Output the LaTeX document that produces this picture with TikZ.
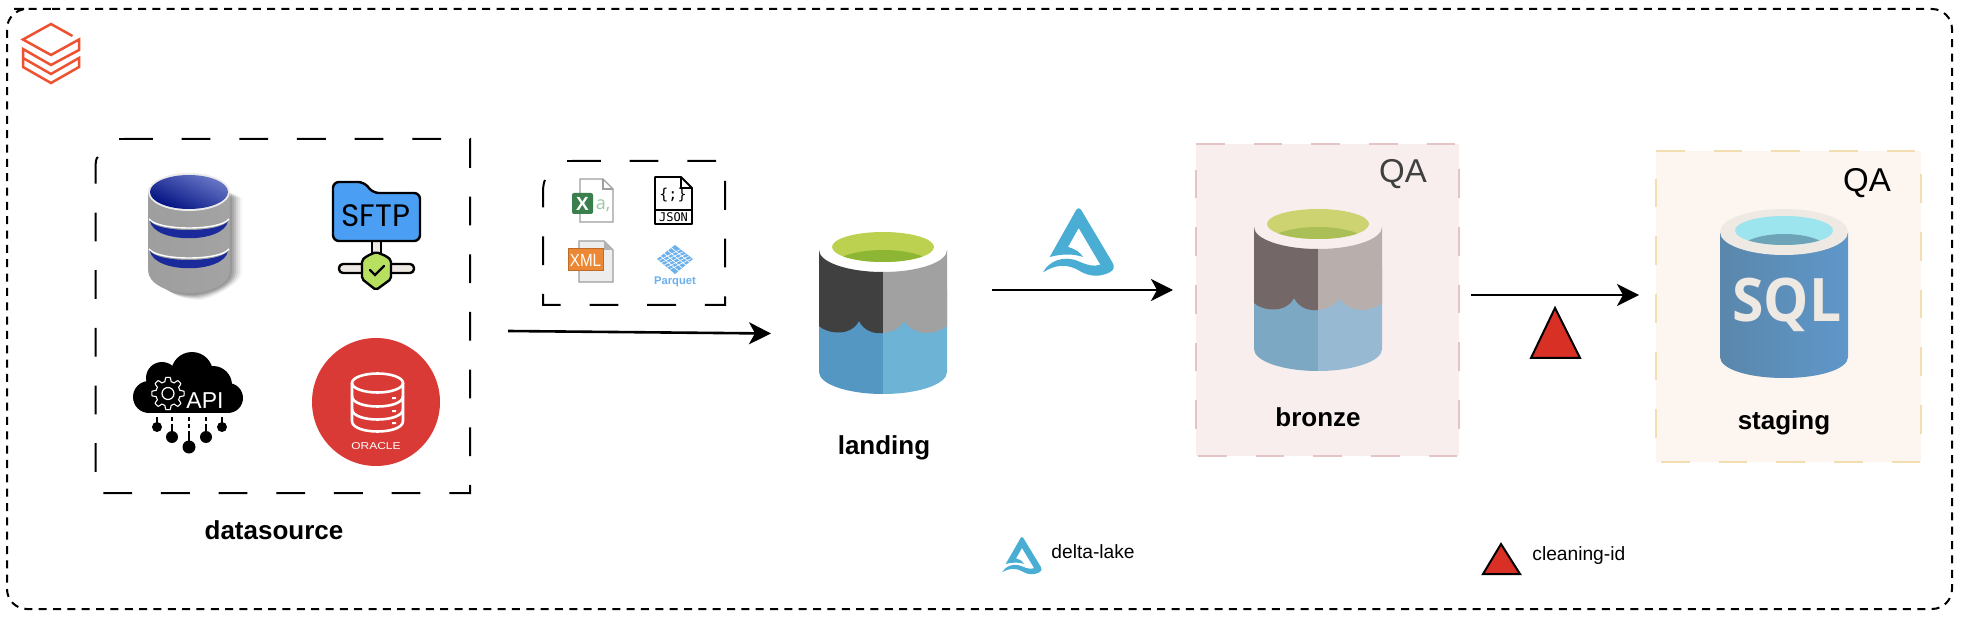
\documentclass[tikz,border=0pt]{standalone}
\usepackage{fontspec}
\usepackage{graphicx}
\setmainfont{Liberation Sans}
\newfontfamily\opensans{Open Sans}
\newfontfamily\iconsans{Poppins}
\newfontfamily\monoicon{DejaVu Sans Mono}
\usetikzlibrary{arrows.meta,calc}
\definecolor{brickred}{HTML}{EE5130}
\definecolor{deltablue}{HTML}{4AAED4}
\definecolor{tricolor}{HTML}{D93025}
\definecolor{oraclered}{HTML}{DA3A35}
\definecolor{bronzefill}{HTML}{F9EEEE}
\definecolor{bronzeline}{HTML}{E3C5C5}
\definecolor{stagefill}{HTML}{FDF6F0}
\definecolor{stageline}{HTML}{F2DEB0}
\definecolor{sqlrim}{HTML}{EFE9E3}
\definecolor{sftpblue}{HTML}{4A9FF5}
\definecolor{parquetblue}{HTML}{6CB0EC}
\definecolor{dbblue}{HTML}{1A2A9A}
\definecolor{dbtopl}{HTML}{6A78C8}
\definecolor{dbtopd}{HTML}{001080}
\definecolor{landwl}{HTML}{5497C3}
\definecolor{landwr}{HTML}{6DB3D6}
\definecolor{landg}{HTML}{BCD14F}
\definecolor{landgd}{HTML}{8CB634}
\definecolor{brzd}{HTML}{736867}
\definecolor{brzl}{HTML}{B8AEAB}
\definecolor{brzwl}{HTML}{7DA8C3}
\definecolor{brzwr}{HTML}{97BAD2}
\definecolor{brzg}{HTML}{CDD371}
\definecolor{brzgd}{HTML}{AABF55}
\definecolor{sqll}{HTML}{5A87AB}
\definecolor{sqlr}{HTML}{5F97CA}
\definecolor{sqlwater}{HTML}{9CE4EE}
\definecolor{sqldeep}{HTML}{6EA4B8}
\definecolor{xlgreen}{HTML}{3B7F4F}
\definecolor{xlcellc}{HTML}{9CC8A4}
\definecolor{xmlorange}{HTML}{EC8833}
\definecolor{shieldg}{HTML}{B8E060}
\tikzset{
  x=0.5pt,y=-0.5pt,
  outerbox/.style={draw=black,line width=1pt,dash pattern=on 4pt off 3.17pt,rounded corners=10pt},
  longdash/.style={line width=1pt,dash pattern=on 14.4pt off 14.43pt},
  flowarrow/.style={draw=black,line width=1.3pt,-{Stealth[length=11pt,width=11pt,inset=3pt]}},
  title/.style={font=\fontsize{13}{13}\selectfont\bfseries,inner sep=0pt,text=black},
  qatext/.style={font=\fontsize{16.5}{16.5}\selectfont,inner sep=0pt},
  legendtext/.style={font=\fontsize{9.6}{9.6}\selectfont,inner sep=0pt,text=black},
  docoutline/.style={draw=black!38,line width=.6pt},
  brickline/.style={draw=brickred,line width=1.25pt,line join=miter},
  iconline/.style={draw=black,line width=1.2pt,line join=round}
}
% storage can: shift x, shift y, dark, light, water left, water right, green, deep green
\newcommand{\lakecan}[8]{%
\begin{scope}[shift={(#1,#2)}]
  \fill[#5] (819,290) -- (819,372) .. controls (819,384.2) and (847.7,394) .. (883,394) -- (883,290) -- cycle;
  \fill[#6] (947,290) -- (947,372) .. controls (947,384.2) and (918.3,394) .. (883,394) -- (883,290) -- cycle;
  \fill[#3] (819,250) -- (819,326) .. controls (826,333) and (850,338) .. (859,321) .. controls (864,331) and (874,334) .. (883,333) -- (883,272) .. controls (847.7,272) and (819,262.2) .. (819,250) -- cycle;
  \fill[#4] (947,250) -- (947,326) .. controls (930,338) and (912,333) .. (904,321) .. controls (900,328) and (893,332) .. (883,333) -- (883,272) .. controls (918.3,272) and (947,262.2) .. (947,250) -- cycle;
  \fill[#7] (883,247) ellipse [x radius=51,y radius=15];
  \begin{scope}
    \clip (883,247) ellipse [x radius=51,y radius=15];
    \fill[#8] (883,268) ellipse [x radius=52,y radius=18];
  \end{scope}
\end{scope}}
% delta mark: left, top, x scale, y scale
\newcommand{\deltamark}[4]{%
\begin{scope}[shift={(#1,#2)},xscale=#3/3,yscale=#4/3,shift={(-128,-235)}]
  \fill[deltablue] (148,382) -- (228,240) .. controls (232,234) and (238,234) .. (242,240) -- (336,398)
   .. controls (345,412) and (340,422) .. (328,428) .. controls (300,442) and (270,442) .. (240,425)
   .. controls (200,400) and (165,405) .. (128,428) .. controls (145,395) and (190,375) .. (235,395)
   .. controls (260,406) and (280,412) .. (300,405) -- (235,295) -- (203,352)
   .. controls (225,358) and (240,368) .. (248,382) .. controls (220,372) and (185,372) .. (148,382) -- cycle;
\end{scope}}
\begin{document}
\begin{tikzpicture}
\useasboundingbox (0,0) rectangle (1966,620);
\fill[white] (0,0) rectangle (1966,620);

% outer frame
\draw[outerbox] (32,9) -- (1952,9) -- (1952,609) -- (7,609) -- (7,9) -- cycle;

% logo
\draw[brickline] (72.5,36) -- (51,24) -- (23,39.5) -- (51,55) -- (79,39.5) -- (79,50) -- (51,65) -- (23,49) -- (23,67) -- (51,83) -- (79,67) -- (79,58) -- (51,74) -- (23,58);

% datasource box
\draw[longdash] (119,139) -- (124,139);
\draw[longdash] (124,139) -- (470,139) -- (470,493) -- (95.5,493) -- (95.5,170) .. controls (95.5,162) and (96,158) .. (98,157);

% database icon
\foreach \o/\op in {2/.10,4/.10,6/.10,8/.08,10/.06,12/.04}{
  \fill[black,opacity=\op] (150+\o,192+\o/2) -- (150+\o,272) .. controls (150+\o,285) and (170,294+\o/2) .. (189+\o,294+\o/2) .. controls (208,294+\o/2) and (230+\o,285) .. (230+\o,272) -- (230+\o,192+\o/2) -- cycle;
}
\shade[left color=black!38,middle color=black!24,right color=black!36] (148,192) -- (148,270) .. controls (148,284) and (168,293) .. (189,293) .. controls (210,293) and (230,284) .. (230,270) -- (230,192) -- cycle;
\foreach \d in {0,30}{
  \draw[white,line width=.7pt] (149,219+\d) .. controls (158,231+\d) and (220,231+\d) .. (229,219+\d);
  \fill[dbblue] (150,221+\d) .. controls (158,233+\d) and (220,233+\d) .. (228,221+\d) .. controls (224,244+\d) and (154,244+\d) .. (150,221+\d) -- cycle;
}
\fill[black!8] (189,192) ellipse [x radius=41,y radius=19];
\shade[top color=dbtopl,bottom color=dbtopd,shading angle=-25] (189,192) ellipse [x radius=39,y radius=17];

% SFTP icon
\draw[iconline,fill=sqlrim] (372,241) rectangle (381,254);
\draw[iconline,fill=sftpblue,rounded corners=3pt] (333,241) -- (333,182) -- (364,182) -- (373,193) -- (420,193) -- (420,241) -- cycle;
\node[font=\iconsans\fontsize{15.5}{15.5}\selectfont,inner sep=0pt,text=black] (sftptext) at (376,216) {SFTP};
\draw[iconline,fill=sqlrim,rounded corners=2pt] (339,264) rectangle (414,273);
\draw[iconline,fill=shieldg,rounded corners=1pt] (376,252) -- (386,256) -- (391,260) -- (391,279) -- (376,290) -- (362,279) -- (362,260) -- (367,256) -- cycle;
\draw[draw=black,line width=1.2pt,line cap=round] (370,270) -- (375,275) -- (384,266);

% API icon
\fill[black] (192,373) circle [radius=21];
\fill[black] (162,378) circle [radius=16];
\fill[black] (213,385) circle [radius=19];
\fill[black] (149,397) circle [radius=16];
\fill[black] (228,398) circle [radius=15];
\fill[black] (149,385) rectangle (228,413);
\draw[white,line width=.55pt,domain=0:360,samples=145] plot ({168+(14.2+2*max(-1,min(1,2.4*cos(8*\x))))*cos(\x)},{393.5+(14.2+2*max(-1,min(1,2.4*cos(8*\x))))*sin(\x)}) -- cycle;
\draw[white,line width=.6pt] (168,393.5) circle [radius=6];
\node[font=\fontsize{11.5}{11.5}\selectfont,inner sep=0pt,text=white] (apitext) at (205,401) {API};
\draw[black,line width=.8pt] (157,417) -- (157,425);
\draw[black,line width=.8pt] (172,417) -- (172,421) (172,424) -- (172,434);
\draw[black,line width=.8pt] (189,417) -- (189,421) (189,424) -- (189,428) (189,431) -- (189,442);
\draw[black,line width=.8pt] (206,417) -- (206,421) (206,424) -- (206,434);
\draw[black,line width=.8pt] (222,417) -- (222,425);
\fill[black] (157,427) circle [radius=5];
\fill[black] (172,437) circle [radius=6];
\fill[black] (189,447) circle [radius=6.5];
\fill[black] (206,437) circle [radius=6];
\fill[black] (222,427) circle [radius=5];

% Oracle icon
\fill[oraclered] (376,402) circle [radius=64];
\begin{scope}[white,line width=1.3pt]
  \draw (352,383) -- (352,421) .. controls (352,435) and (403,435) .. (403,421) -- (403,383);
  \draw (377.5,383) ellipse [x radius=25.5,y radius=9.5];
  \draw (352,396) .. controls (352,410) and (403,410) .. (403,396);
  \draw (352,409) .. controls (352,423) and (403,423) .. (403,409);
\end{scope}
\fill[white] (392,397) rectangle (396,399) (392,410) rectangle (396,412) (392,422) rectangle (396,424);
\node[font=\fontsize{5}{5}\selectfont,inner sep=0pt,text=white] (oracletext) at (376,446) {\scalebox{1.2}[1]{ORACLE}};

% files box
\draw[longdash] (567,161) -- (572,161);
\draw[longdash] (572,161) -- (725,161) -- (725,305) -- (543,305) -- (543,192) .. controls (543,186) and (544,182) .. (545,180);

% Excel file
\draw[docoutline,fill=white] (580,179) -- (603,179) -- (613,189) -- (613,222) -- (580,222) -- cycle;
\draw[docoutline] (603,179) -- (603,189) -- (613,189);
\fill[xlgreen,rounded corners=1pt] (572,193) rectangle (593,214);
\node[font=\fontsize{9.5}{9.5}\selectfont\bfseries,inner sep=0pt,text=white] (xltext) at (582.5,203.5) {X};
\node[font=\opensans\fontsize{9}{9}\selectfont,inner sep=0pt,text=xlcellc] (xlcell) at (603,206) {a,};

% JSON file
\draw[black,line width=.9pt,fill=white,line join=round] (655,177) -- (681,177) -- (692,188) -- (692,224) -- (655,224) -- cycle;
\draw[black,line width=.9pt] (681,177) -- (681,188) -- (692,188) (655,210) -- (692,210);
\node[font=\monoicon\fontsize{7.5}{7.5}\selectfont,inner sep=0pt,text=black] (jsonglyph) at (673,195) {\{;\}};
\node[font=\monoicon\fontsize{6}{6}\selectfont,inner sep=0pt,text=black] (jsontext) at (673.5,217) {JSON};

% XML file
\draw[docoutline,fill=black!7] (579,241) -- (604,241) -- (613,250) -- (613,282) -- (579,282) -- cycle;
\fill[black!30] (604,241) -- (604,250) -- (613,250) -- cycle;
\fill[xmlorange] (568,249) rectangle (603,271);
\draw[xmlorange!80!black,line width=.5pt] (568,249) rectangle (603,271);
\node[font=\fontsize{8}{8}\selectfont,inner sep=0pt,text=white] (xmltext) at (585.5,260) {\scalebox{.95}[1.1]{XML}};

% Parquet mark
\fill[parquetblue] (657,259) -- (675,245) -- (693,259) -- (675,274) -- cycle;
\foreach \t in {.2,.4,.6,.8}{
  \draw[white,line width=.35pt] ($(657,259)!\t!(675,245)$) -- ($(675,274)!\t!(693,259)$);
}
\foreach \t/\u in {.25/.45,.55/.75,.1/.3,.7/.9,.4/.6}{
  \draw[white,line width=.3pt] ($(657,259)!\t!(675,274)$) -- ($(657,259)!\u!(675,274)+(18,-14)$);
}
\node[font=\fontsize{5.6}{5.6}\selectfont\bfseries,inner sep=0pt,text=parquetblue] (parquettext) at (675,282) {Parquet};

% landing
\lakecan{0}{0}{black!75}{black!37}{landwl}{landwr}{landg}{landgd}
\node[title] (landing) at (884,448) {landing};

% bronze
\coordinate (bronzecorner) at (1196,144);
\fill[bronzefill] (1196,144) rectangle (1459,456);
\draw[bronzeline,longdash] (bronzecorner) -- (1459,144) -- (1459,456) -- (1196,456) -- cycle;
\lakecan{435}{-23}{brzd}{brzl}{brzwl}{brzwr}{brzg}{brzgd}
\node[qatext,text=black!75] (qabronze) at (1403,174) {QA};
\node[title] (bronze) at (1318,417) {bronze};

% staging
\coordinate (stagecorner) at (1656,151);
\fill[stagefill] (1656,151) rectangle (1921,462);
\draw[stageline,longdash] (stagecorner) -- (1921,151) -- (1921,462) -- (1656,462) -- cycle;
\shade[left color=sqll,right color=sqlr] (1720,232) -- (1720,357) .. controls (1720,369) and (1748,378) .. (1784,378) .. controls (1820,378) and (1848,369) .. (1848,357) -- (1848,232) -- cycle;
\fill[sqlrim] (1784,232) ellipse [x radius=64,y radius=23];
\fill[sqlwater] (1784,230.5) ellipse [x radius=49,y radius=14.5];
\begin{scope}
  \clip (1784,230.5) ellipse [x radius=49,y radius=14.5];
  \fill[sqldeep] (1784,252) ellipse [x radius=46,y radius=18];
\end{scope}
\node[font=\opensans\fontsize{30}{30}\selectfont\bfseries,inner sep=0pt,text=sqlrim] (sqltext) at (1787,305) {\scalebox{.95}[1]{SQL}};
\node[qatext,text=black] (qastaging) at (1867,183) {QA};
\node[title] (staging) at (1784,423) {staging};

% delta marks and triangles
\deltamark{1043}{208}{1}{1}
\draw[black,line width=1pt,fill=tricolor,line join=miter] (1555,308) -- (1580,358) -- (1531,358) -- cycle;
\deltamark{1002}{537}{.56}{.55}
\draw[black,line width=1pt,fill=tricolor,line join=miter] (1501,544) -- (1520,574) -- (1483,574) -- cycle;
\node[legendtext,anchor=west] (deltalegend) at (1051,552) {delta-lake};
\node[legendtext,anchor=west] (cleanlegend) at (1532,556) {cleaning-id};

% titles
\node[title] (datasource) at (274,530) {datasource};

% arrows
\coordinate (a1s) at (508,331);
\coordinate (a1e) at (771,333.5);
\coordinate (a2s) at (992,290);
\coordinate (a2e) at (1173,290);
\coordinate (a3s) at (1471,295);
\coordinate (a3e) at (1639,295);
\draw[flowarrow] (a1s) -- (a1e);
\draw[flowarrow] (a2s) -- (a2e);
\draw[flowarrow] (a3s) -- (a3e);
\end{tikzpicture}
\end{document}
